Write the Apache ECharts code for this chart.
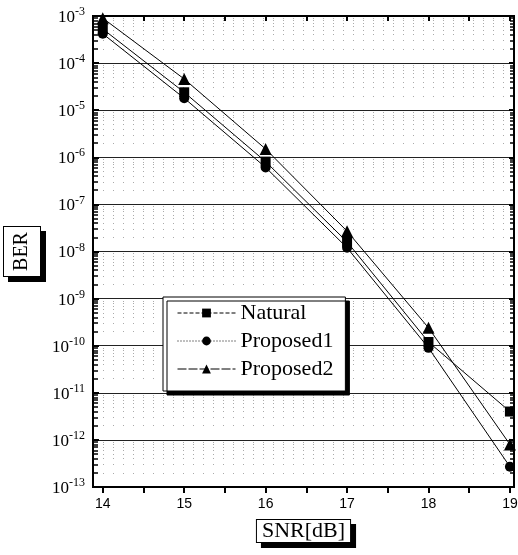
<!DOCTYPE html>
<html>
<head>
<meta charset="utf-8">
<script src="https://cdn.jsdelivr.net/npm/echarts@6/dist/echarts.min.js"></script>
<style>
  html, body {margin: 0; padding: 0; background: #fff;}
  #chart {width: 518px; height: 555px;}
</style>
</head>
<body>
<div id="chart"></div>
<script>
// data
const snr = [14, 15, 16, 17, 18, 19]
const natural = [5.3e-4, 2.4e-5, 8.1e-7, 1.6e-8, 1.2e-10, 4.0e-12]
const proposed1 = [4.2e-4, 1.8e-5, 6.1e-7, 1.2e-8, 9.0e-11, 2.7e-13]
const proposed2 = [9.0e-4, 4.6e-5, 1.5e-6, 2.7e-8, 2.4e-10, 8.0e-13]
const xTicks = [14, 15, 16, 17, 18, 19]
const xMinorTicks = [14, 14.5, 15, 15.5, 16, 16.5, 17, 17.5, 18, 18.5, 19]

const serif = 'Liberation Serif'

const pairs = function (ys) {
  return snr.map((x, i) => [x, ys[i]])
}

const mkSeries = function (name, ys, symbol, size) {
  return {
    name: name,
    type: 'line',
    data: pairs(ys),
    symbol: symbol,
    symbolSize: size,
    itemStyle: {color: '#000'},
    lineStyle: {color: '#000', width: 1},
    z: 5,
  }
}

const boxText = function (size, padding, sx, sy) {
  return {
    fontFamily: serif, fontSize: size, color: '#000',
    borderColor: '#000', borderWidth: 1, padding: padding,
    backgroundColor: '#fff',
    shadowColor: '#000', shadowOffsetX: sx, shadowOffsetY: sy, shadowBlur: 0,
  }
}

const chart = echarts.init(document.getElementById('chart'))
chart.setOption({
  animation: false,
  grid: {
    left: 93, right: 4, top: 16, bottom: 68,
    containLabel: false,
    outerBoundsMode: 'none',
    show: true, borderColor: '#000', borderWidth: 2,
  },
  legend: {
    orient: 'vertical',
    left: 163, top: 297,
    itemWidth: 58, itemHeight: 11, itemGap: 6,
    padding: [5, 12, 11, 14],
    backgroundColor: '#fff',
    borderColor: '#000', borderWidth: 1,
    shadowColor: '#000', shadowOffsetX: 4, shadowOffsetY: 4, shadowBlur: 0,
    textStyle: {fontFamily: serif, fontSize: 22, lineHeight: 22, color: '#000'},
    data: [
      {name: 'Natural', lineStyle: {type: [4, 2], width: 1}},
      {name: 'Proposed1', lineStyle: {type: [1, 2], width: 1}},
      {name: 'Proposed2', lineStyle: {type: [9, 2], width: 1}},
    ],
  },
  xAxis: [{
    type: 'value',
    min: 13.88, max: 19.05,
    name: 'SNR[dB]',
    nameLocation: 'middle',
    nameGap: 33,
    nameTextStyle: boxText(22, [0, 5, 0, 5], 5, 5),
    axisLine: {lineStyle: {color: '#000', width: 2}},
    axisTick: {show: true, inside: false, length: 6, lineStyle: {color: '#000', width: 2},
      customValues: xMinorTicks},
    axisLabel: {fontFamily: 'Liberation Sans', fontSize: 14, color: '#000', margin: 10,
      customValues: xTicks},
    splitLine: {show: false},
  }, {
    type: 'value',
    position: 'top',
    min: 13.88, max: 19.05,
    axisLine: {lineStyle: {color: '#000', width: 2}},
    axisTick: {show: true, inside: true, length: 5, lineStyle: {color: '#000', width: 2},
      customValues: xMinorTicks},
    axisLabel: {show: false},
    splitLine: {show: false},
  }],
  yAxis: [{
    type: 'log',
    logBase: 10,
    min: 1e-13, max: 1e-3,
    name: 'BER',
    nameLocation: 'middle',
    nameRotate: 90,
    nameGap: 53,
    nameTextStyle: boxText(20, [8, 5, 8, 5], 5, 5),
    axisLine: {show: true, lineStyle: {color: '#000', width: 2}},
    axisTick: {show: true, inside: true, length: 6, lineStyle: {color: '#000', width: 2}},
    minorTick: {show: true, splitNumber: 9, length: 5, lineStyle: {color: '#000', width: 1.5}},
    axisLabel: {
      color: '#000', margin: 8,
      formatter: function (v) {
        const e = Math.round(Math.log10(v))
        return '{b|10}{s|' + e + '}'
      },
      rich: {
        b: {fontFamily: serif, fontSize: 17, color: '#000', verticalAlign: 'bottom', lineHeight: 20},
        s: {fontFamily: serif, fontSize: 12, color: '#000', verticalAlign: 'top', lineHeight: 20, padding: [0, 0, 9, 0]},
      },
    },
    splitLine: {show: true, lineStyle: {color: '#222', width: 1}},
    minorSplitLine: {show: true, lineStyle: {color: '#aaa', width: 1, type: [1, 9]}},
  }, {
    type: 'log',
    logBase: 10,
    position: 'right',
    min: 1e-13, max: 1e-3,
    axisLine: {show: true, lineStyle: {color: '#000', width: 2}},
    axisTick: {show: true, inside: true, length: 5, lineStyle: {color: '#000', width: 2}},
    minorTick: {show: true, splitNumber: 9, length: 4, lineStyle: {color: '#000', width: 1.5}},
    axisLabel: {show: false},
    splitLine: {show: false},
  }],
  series: [
    mkSeries('Natural', natural, 'rect', 10),
    mkSeries('Proposed1', proposed1, 'circle', 10),
    mkSeries('Proposed2', proposed2, 'triangle', 12),
  ],
})
</script>
</body>
</html>
